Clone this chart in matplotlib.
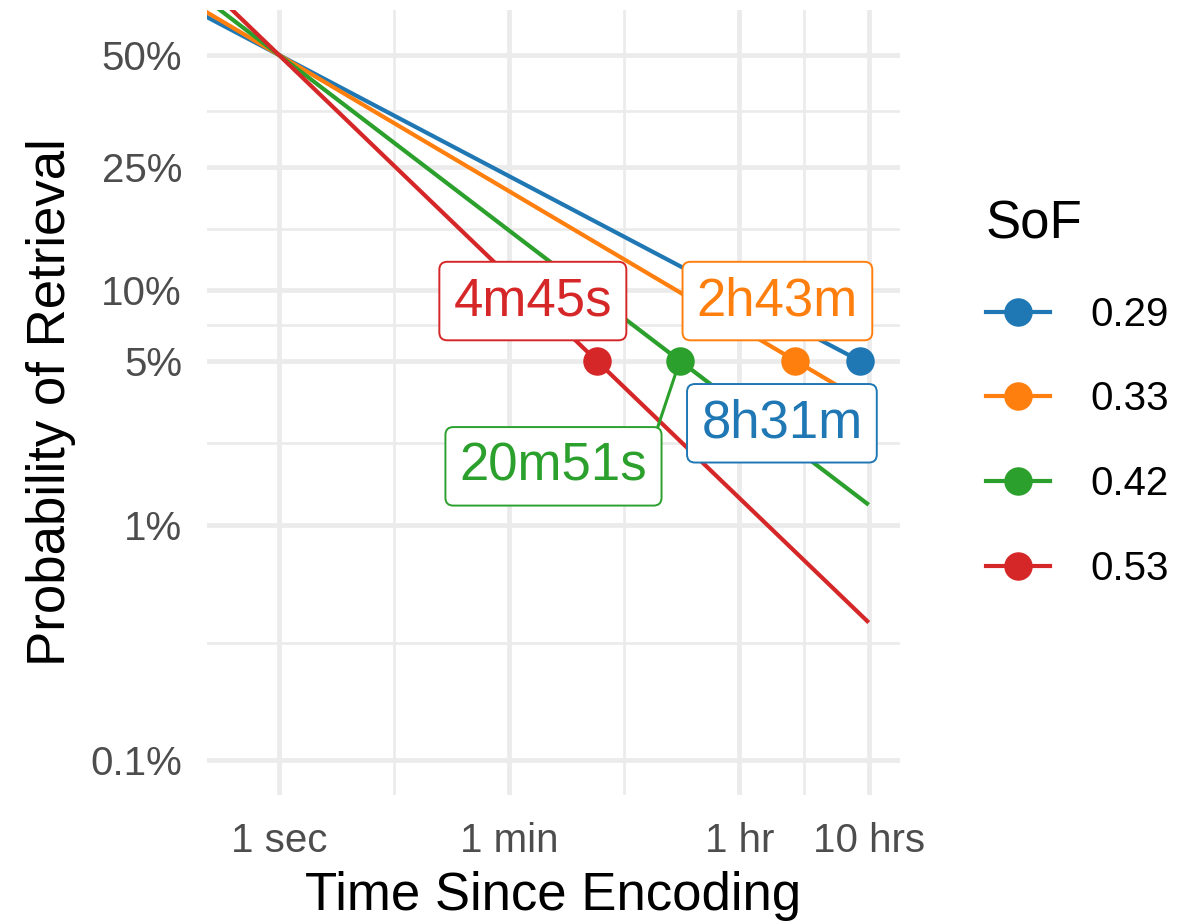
import numpy as np
import matplotlib.pyplot as plt
from matplotlib.lines import Line2D

plt.rcParams['font.family'] = ['Liberation Sans', 'DejaVu Sans']

# speed-of-forgetting groups (legend order)
sof = [0.29, 0.33, 0.42, 0.53]
colors = ["#1F77B4", "#FF7F0E", "#2CA02C", "#D62728"]
# time until the odds of retrieval drop to 1:20, in seconds
t_5pct = [8*3600 + 31*60, 2*3600 + 43*60, 20*60 + 51, 4*60 + 45]
t_labels = ["8h31m", "2h43m", "20m51s", "4m45s"]

# axis breaks
x_breaks = [1, 60, 3600, 36000]
x_labels = ["1 sec", "1 min", "1 hr", "10 hrs"]
y_odds = [1, 1/3, 1/10, 1/20, 1/100, 1/1000]
y_labels = ["50%", "25%", "10%", "5%", "1%", "0.1%"]
odds_5pct = 1/20

# where each time label sits relative to its point (points)
label_offsets = [(-56, -45), (-13, 43), (-91, -76), (-46, 43)]

grid_col = "#EBEBEB"

fig = plt.figure(figsize=(11.81, 9.24), dpi=100)
ax = fig.add_axes([207/1181, 1 - 795/924, (900 - 207)/1181, (795 - 10)/924])
ax.set_xscale('log')
ax.set_yscale('log')

t = np.logspace(-1, np.log10(36000), 400)
for s, c, t5 in zip(sof, colors, t_5pct):
    k = np.log(1/odds_5pct) / np.log(t5)
    ax.plot(t, t**(-k), color=c, lw=3.0, solid_capstyle='butt', zorder=3)

for c, t5 in zip(colors, t_5pct):
    ax.plot([t5], [odds_5pct], 'o', color=c, ms=19.5, zorder=4)

for c, t5, lab, off in zip(colors, t_5pct, t_labels, label_offsets):
    arrow = None
    if lab == "20m51s":
        arrow = dict(arrowstyle='-', color=c, lw=2.2, shrinkA=0, shrinkB=0,
                     relpos=(1.0, 0.66))
    ax.annotate(lab, xy=(t5, odds_5pct), xytext=off, textcoords='offset points',
                ha='center', va='center', fontsize=38, color=c, zorder=5,
                bbox=dict(boxstyle='round,pad=0.27,rounding_size=0.15',
                          fc='white', ec=c, lw=1.4),
                arrowprops=arrow)

ax.set_xlim(0.2778, 62810)
ax.set_ylim(np.exp(-7.25), np.exp(0.4409))

# grid: majors at the breaks, minors halfway between them on the log axis
ax.set_xticks(x_breaks)
ax.set_xticklabels(x_labels)
x_minor = [np.sqrt(a*b) for a, b in zip(x_breaks[:-1], x_breaks[1:])]
ax.set_xticks(x_minor, minor=True)
ax.set_yticks(y_odds)
ax.set_yticklabels(y_labels)
y_minor = [np.sqrt(a*b) for a, b in zip(y_odds[:-1], y_odds[1:])]
ax.set_yticks(y_minor, minor=True)
ax.yaxis.set_minor_formatter(plt.NullFormatter())
ax.xaxis.set_minor_formatter(plt.NullFormatter())

ax.grid(which='major', color=grid_col, lw=3.4, zorder=0)
ax.grid(which='minor', color=grid_col, lw=1.9, zorder=0)
ax.set_axisbelow(True)
for sp in ax.spines.values():
    sp.set_visible(False)
ax.tick_params(which='both', length=0, labelsize=29, labelcolor="#4D4D4D")
ax.tick_params(axis='x', pad=19.5)
ax.tick_params(axis='y', pad=18)

ax.set_xlabel("Time Since Encoding", fontsize=38, labelpad=8)
ax.set_ylabel("Probability of Retrieval", fontsize=38, labelpad=10.5)

handles = [Line2D([0], [0], color=c, lw=3.0, marker='o', ms=19.5) for c in colors]
leg = ax.legend(handles, [f"{s:.2f}" for s in sof], title="SoF",
                loc='upper left', bbox_to_anchor=(986/1181, 1 - 199/924),
                bbox_transform=fig.transFigure, frameon=False,
                fontsize=29, title_fontsize=38, handlelength=1.6,
                handletextpad=1.0, labelspacing=1.16, alignment='left',
                borderpad=0, borderaxespad=0)

fig.savefig("out.png", dpi=100)
